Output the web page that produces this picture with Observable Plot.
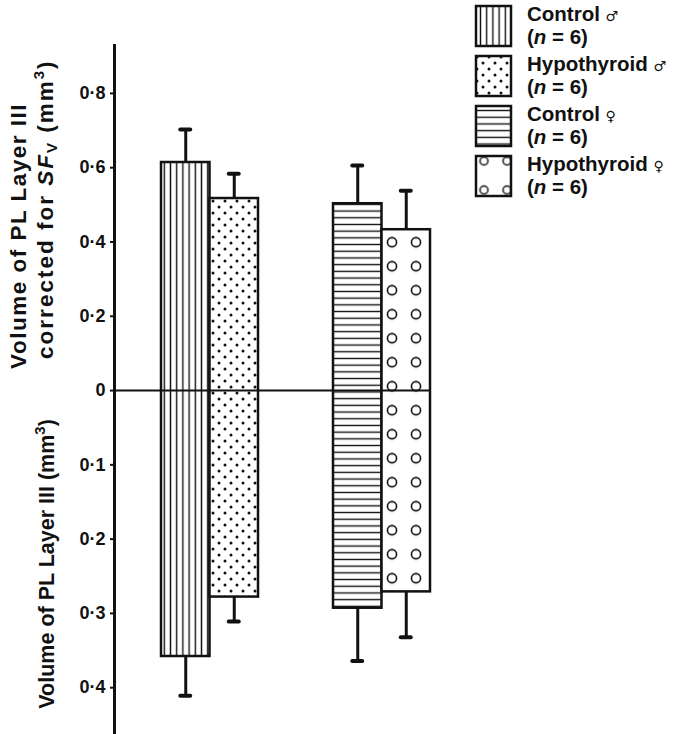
<!DOCTYPE html>
<html><head><meta charset="utf-8">
<script src="https://cdn.jsdelivr.net/npm/d3@7"></script>
<script src="https://cdn.jsdelivr.net/npm/@observablehq/plot@0.6"></script>
<style>
body{margin:0;background:#fff;}
#chart{position:relative;width:677px;height:734px;}
</style></head><body><div id="chart"></div>
<script>
// ---- data ----
const groups = ["Control ♂", "Hypothyroid ♂", "Control ♀", "Hypothyroid ♀"];
const sexes = ["♂", "♀"];
const barSex = ["♂", "♂", "♀", "♀"];
const barCondition = ["Control", "Hypothyroid", "Control", "Hypothyroid"];
const legendNames = ["Control", "Hypothyroid", "Control", "Hypothyroid"];
const legendN = [6, 6, 6, 6];
// upper half: volume corrected for SFv (mm3)
const correctedMean = [0.614, 0.517, 0.503, 0.433];
const correctedSE = [0.089, 0.067, 0.103, 0.105];
// lower half: volume (mm3), drawn downwards at twice the scale
const volumeMean = [0.358, 0.278, 0.293, 0.271];
const volumeSE = [0.053, 0.033, 0.071, 0.061];
const upperTicks = [0, 0.2, 0.4, 0.6, 0.8];
const lowerTicks = [0.1, 0.2, 0.3, 0.4];
const lowerScale = 2;
const yDomain = [-0.926, 0.929];

// ---- layout ----
const W = 677, H = 734;
const margin = {top: 45, right: 247, bottom: 0, left: 114};
const pad = {inner: 0.436, outer: 0.1366};
const plotW = W - margin.left - margin.right;
const step = plotW / (sexes.length - pad.inner + 2 * pad.outer);
const bw = step * (1 - pad.inner);
const half = bw / 2;
const capHalf = 5;
const ink = "#111";
const font = "'Liberation Sans', Arial, Helvetica, sans-serif";

const bars = groups.map((g, i) => ({
  group: g, sex: barSex[i], cond: barCondition[i],
  up: correctedMean[i], upEnd: correctedMean[i] + correctedSE[i],
  lo: -lowerScale * volumeMean[i], loEnd: -lowerScale * (volumeMean[i] + volumeSE[i])
}));
const ctrl = bars.filter(d => d.cond === "Control");
const hypo = bars.filter(d => d.cond === "Hypothyroid");

const fmt = v => v === 0 ? "0" : (v > 0 ? v : -v / lowerScale).toFixed(1).replace(".", "·");

function errMarks(data, dx, insL, insR) {
  return [
    Plot.ruleX(data, {x: "sex", y1: "up", y2: "upEnd", dx, stroke: ink, strokeWidth: 3}),
    Plot.ruleX(data, {x: "sex", y1: "lo", y2: "loEnd", dx, stroke: ink, strokeWidth: 3}),
    Plot.tickY(data, {x: "sex", y: "upEnd", insetLeft: insL, insetRight: insR, stroke: ink, strokeWidth: 4, strokeLinecap: "round"}),
    Plot.tickY(data, {x: "sex", y: "loEnd", insetLeft: insL, insetRight: insR, stroke: ink, strokeWidth: 4, strokeLinecap: "round"})
  ];
}

const plot = Plot.plot({
  width: W, height: H,
  marginTop: margin.top, marginRight: margin.right, marginBottom: margin.bottom, marginLeft: margin.left,
  style: {background: "white", fontFamily: font, fontWeight: "bold", fontSize: "18px", color: ink, overflow: "visible"},
  x: {domain: sexes, paddingInner: pad.inner, paddingOuter: pad.outer, align: 1, axis: null},
  y: {domain: yDomain, axis: null},
  color: {domain: groups, range: ["url(#pVert)", "url(#pDots)", "url(#pHoriz)", "url(#pCirc)"]},
  marks: [
    ...errMarks(ctrl, -half / 2, half / 2 - capHalf, bw - half / 2 - capHalf),
    ...errMarks(hypo, half / 2, half + half / 2 - capHalf, half / 2 - capHalf),
    Plot.barY(ctrl, {x: "sex", y1: "up", y2: "lo", fill: "group", stroke: ink, strokeWidth: 2.5, insetRight: half}),
    Plot.barY(hypo, {x: "sex", y1: "up", y2: "lo", fill: "group", stroke: ink, strokeWidth: 2.5, insetLeft: half}),
    Plot.ruleY([0], {stroke: ink, strokeWidth: 2}),
    Plot.frame({anchor: "left", stroke: ink, strokeWidth: 3}),
    Plot.axisY({
      ticks: [...upperTicks, ...lowerTicks.map(v => -lowerScale * v)],
      tickFormat: fmt, tickSize: 4, tickPadding: 5, label: null,
      fontSize: 18, fontWeight: "bold", stroke: ink, strokeWidth: 2
    })
  ]
});

document.getElementById("chart").appendChild(plot);
const svg = d3.select(plot);
const xs = plot.scale("x"), ys = plot.scale("y");

// ---- patterns ----
const defs = svg.insert("defs", ":first-child");
function pattern(id, w, h) {
  const p = defs.append("pattern").attr("id", id).attr("patternUnits", "userSpaceOnUse")
    .attr("width", w).attr("height", h);
  p.append("rect").attr("width", w).attr("height", h).attr("fill", "white");
  return p;
}
const pv = pattern("pVert", 6.2, 10);
pv.append("line").attr("x1", 3.1).attr("x2", 3.1).attr("y1", 0).attr("y2", 10).attr("stroke", ink).attr("stroke-width", 1.4);
const pd = pattern("pDots", 12, 12);
pd.append("circle").attr("cx", 3).attr("cy", 3).attr("r", 1.5).attr("fill", ink);
pd.append("circle").attr("cx", 9).attr("cy", 9).attr("r", 1.5).attr("fill", ink);
const ph = pattern("pHoriz", 10, 6.7);
ph.append("line").attr("x1", 0).attr("x2", 10).attr("y1", 3.35).attr("y2", 3.35).attr("stroke", ink).attr("stroke-width", 1.4);
const hypoFemaleLeft = xs.apply("♀") + half;
const hypoFemaleTop = ys.apply(correctedMean[3]);
const pc = pattern("pCirc", 24, 24).attr("x", hypoFemaleLeft + 10.5 - 12).attr("y", hypoFemaleTop + 13 - 12);
pc.append("circle").attr("cx", 12).attr("cy", 12).attr("r", 4.6).attr("fill", "white").attr("stroke", ink).attr("stroke-width", 1.6);

// ---- axis titles ----
const titles = svg.append("g").attr("font-family", font).attr("font-weight", "bold")
  .attr("fill", ink).attr("text-anchor", "middle");
const line1Center = ys.apply(0.415), line2Center = ys.apply(0.487), lowerCenter = ys.apply(-lowerScale * 0.234);
titles.append("text").attr("transform", `translate(26,${line1Center}) rotate(-90)`)
  .attr("font-size", 22.5).attr("letter-spacing", 1.5)
  .text("Volume of PL Layer III");
const t2 = titles.append("text").attr("transform", `translate(53,${line2Center}) rotate(-90)`)
  .attr("font-size", 22.5).attr("letter-spacing", 2);
t2.append("tspan").text("corrected for ");
t2.append("tspan").attr("font-style", "italic").text("SF");
t2.append("tspan").attr("font-size", 15).attr("dy", 4).text("V");
t2.append("tspan").attr("dy", -4).text(" (mm");
t2.append("tspan").attr("font-size", 15).attr("dy", -9).text("3");
t2.append("tspan").attr("dy", 9).text(")");
const t3 = titles.append("text").attr("transform", `translate(54,${lowerCenter}) rotate(-90)`)
  .attr("font-size", 21.5);
t3.append("tspan").text("Volume of PL Layer III (mm");
t3.append("tspan").attr("font-size", 15).attr("dy", -9).text("3");
t3.append("tspan").attr("dy", 9).text(")");

// ---- legend ----
const lg = svg.append("g").attr("font-family", font).attr("font-weight", "bold").attr("font-size", 20.5)
  .attr("fill", ink).attr("text-anchor", "start");
const boxX = 476, boxW = 35, boxH = 40, pitch = 50, top0 = 6;
const plc = pattern("pCircLegend", 23, 29).attr("x", boxX + 8 - 11.5).attr("y", top0 + 3 * pitch + 5 - 14.5);
plc.append("circle").attr("cx", 11.5).attr("cy", 14.5).attr("r", 4).attr("fill", "white").attr("stroke", ink).attr("stroke-width", 1.5);
const legendFills = ["url(#pVert)", "url(#pDots)", "url(#pHoriz)", "url(#pCircLegend)"];
groups.forEach((g, i) => {
  const y0 = top0 + i * pitch;
  lg.append("rect").attr("x", boxX).attr("y", y0).attr("width", boxW).attr("height", boxH)
    .attr("fill", legendFills[i]).attr("stroke", ink).attr("stroke-width", 2.5);
  const t = lg.append("text").attr("x", boxX + 51).attr("y", y0 + 15);
  t.append("tspan").text(legendNames[i] + " ");
  t.append("tspan").attr("font-family", "'DejaVu Sans'").attr("font-weight", "normal").attr("font-size", 14).text(barSex[i]);
  const n = lg.append("text").attr("x", boxX + 51).attr("y", y0 + 38);
  n.append("tspan").text("(");
  n.append("tspan").attr("font-style", "italic").text("n");
  n.append("tspan").text(" = " + legendN[i] + ")");
});
</script></body></html>
